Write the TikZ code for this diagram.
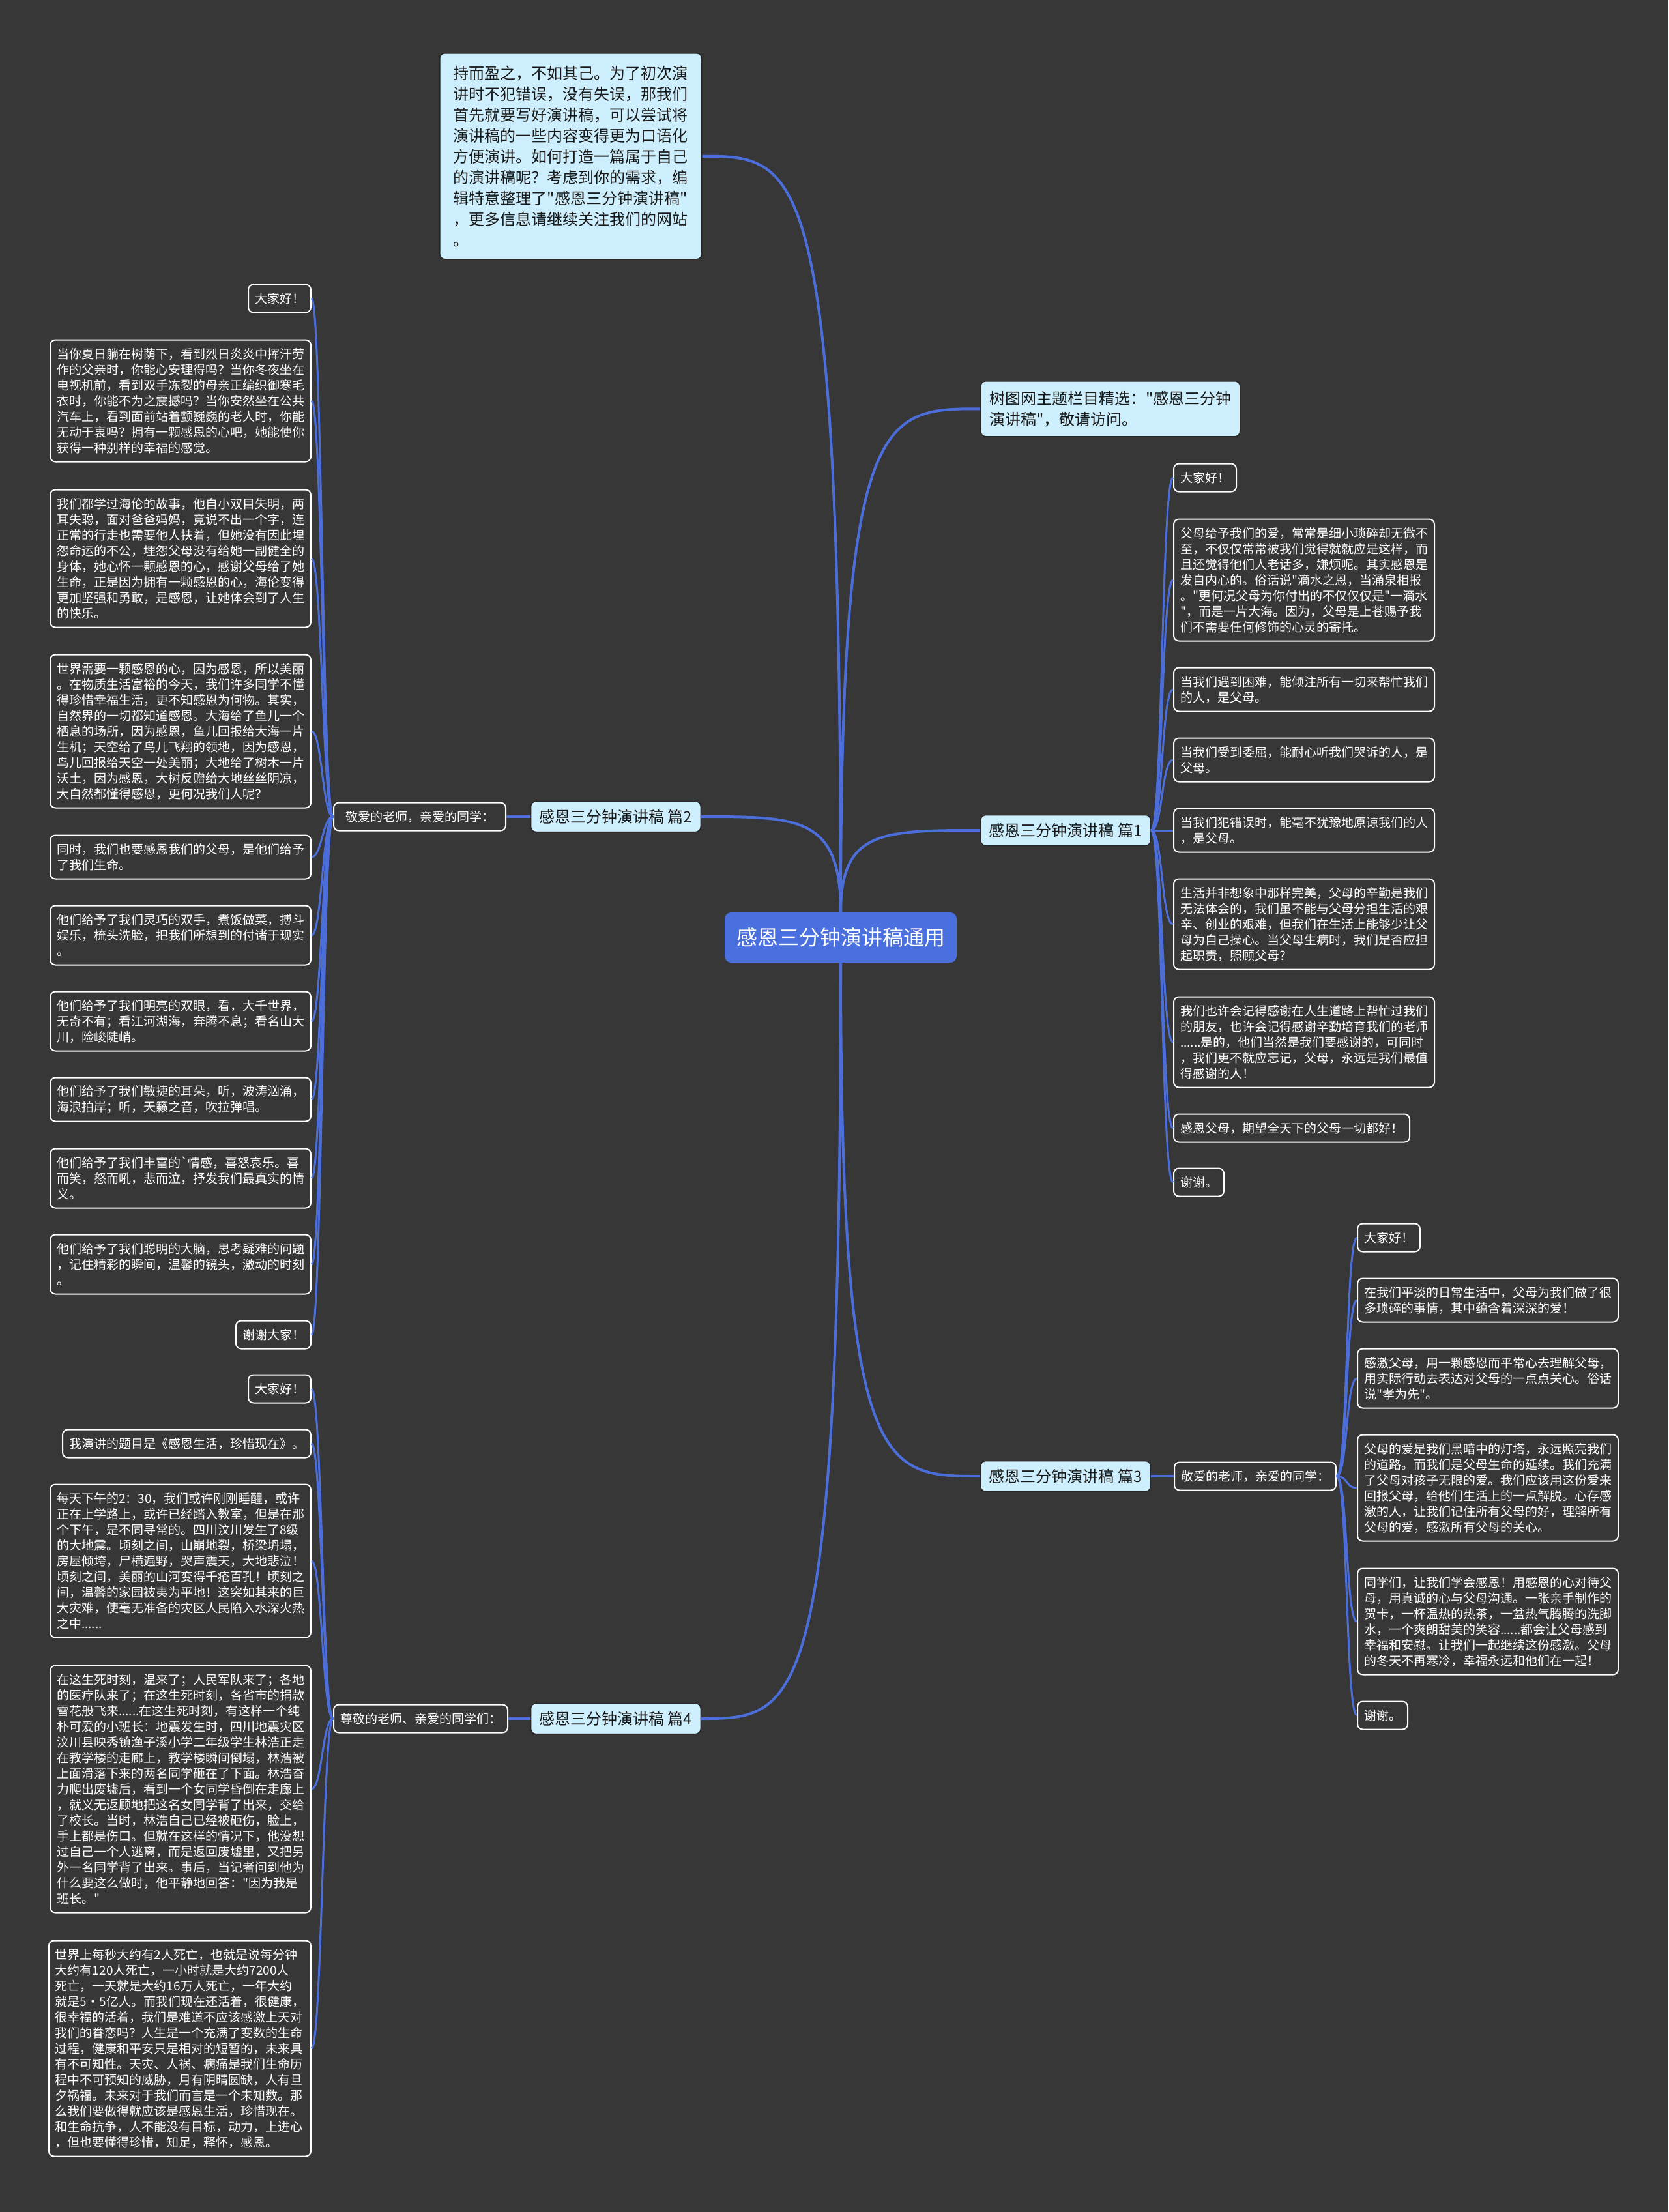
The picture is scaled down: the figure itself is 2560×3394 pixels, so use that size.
\documentclass[tikz,border=0pt]{standalone}
\usepackage{fontspec}
\newfontfamily\cjk{Noto Sans CJK SC}
\definecolor{bg}{HTML}{373737}
\definecolor{lineblue}{HTML}{4B6EDB}
\definecolor{cyanbg}{HTML}{CDEFFD}
\definecolor{ctrblue}{HTML}{4A6FDE}
\begin{document}
\begin{tikzpicture}[x=1pt,y=-1pt,
  leaf/.style={draw=white, line width=2pt, fill=bg, rounded corners=8pt, text=white,
    font=\cjk\fontsize{19pt}{24pt}\selectfont, align=left, inner xsep=10pt, inner ysep=3pt,
    minimum height={24*#1+19}},
  leaf/.default=1,
  lone/.style={draw=black!85, line width=1.5pt, fill=cyanbg, rounded corners=8pt, text=black!90,
    font=\cjk\fontsize{24pt}{32pt}\selectfont, align=left, inner xsep=13pt, inner ysep=3pt},
  pian/.style={lone, minimum width=260pt, minimum height=47pt},
  ctrnode/.style={fill=ctrblue, rounded corners=10pt, text=white,
    font=\cjk\fontsize{32pt}{40pt}\selectfont, minimum width=356pt, minimum height=77pt, inner sep=0pt},
  conn/.style={draw=lineblue, line width=4pt},
  lconn/.style={draw=lineblue, line width=3pt}
]
\useasboundingbox (0,0) rectangle (2560,3394);
\fill[bg] (0,0) rectangle (2560,3394);

% centre and first level
\node[ctrnode] (ctr) at (1290,1438.5) {感恩三分钟演讲稿通用};
\node[lone, anchor=north west, minimum width=402pt, minimum height=316pt] (intro) at (674,81)
 {持而盈之，不如其己。为了初次演\\讲时不犯错误，没有失误，那我们\\首先就要写好演讲稿，可以尝试将\\演讲稿的一些内容变得更为口语化\\方便演讲。如何打造一篇属于自己\\的演讲稿呢？考虑到你的需求，编\\辑特意整理了"感恩三分钟演讲稿"\\，更多信息请继续关注我们的网站\\。};
\node[lone, anchor=north west, minimum width=398pt, minimum height=85pt] (tree) at (1504,584)
 {树图网主题栏目精选："感恩三分钟\\演讲稿"，敬请访问。};
\node[pian, anchor=west] (p1) at (1504,1274) {感恩三分钟演讲稿 篇1};
\node[pian, anchor=east] (p2) at (1076,1253) {感恩三分钟演讲稿 篇2};
\node[pian, anchor=west] (p3) at (1504,2265) {感恩三分钟演讲稿 篇3};
\node[pian, anchor=east] (p4) at (1076,2637) {感恩三分钟演讲稿 篇4};

% second level
\node[leaf, anchor=west, minimum width=264pt] (l2b) at (511,1253) {敬爱的老师，亲爱的同学：};
\node[leaf, anchor=west] (l2c) at (1801,2265) {敬爱的老师，亲爱的同学：};
\node[leaf, anchor=west] (l2d) at (511,2637) {尊敬的老师、亲爱的同学们：};

% 篇1 leaves
\node[leaf, anchor=west] (a1) at (1800,733) {大家好！};
\node[leaf=7, anchor=west] (a2) at (1800,890) {父母给予我们的爱，常常是细小琐碎却无微不\\至，不仅仅常常被我们觉得就就应是这样，而\\且还觉得他们人老话多，嫌烦呢。其实感恩是\\发自内心的。俗话说"滴水之恩，当涌泉相报\\。"更何况父母为你付出的不仅仅仅是"一滴水\\"，而是一片大海。因为，父母是上苍赐予我\\们不需要任何修饰的心灵的寄托。};
\node[leaf=2, anchor=west] (a3) at (1800,1058) {当我们遇到困难，能倾注所有一切来帮忙我们\\的人，是父母。};
\node[leaf=2, anchor=west] (a4) at (1800,1166) {当我们受到委屈，能耐心听我们哭诉的人，是\\父母。};
\node[leaf=2, anchor=west] (a5) at (1800,1274) {当我们犯错误时，能毫不犹豫地原谅我们的人\\，是父母。};
\node[leaf=5, anchor=west] (a6) at (1800,1418) {生活并非想象中那样完美，父母的辛勤是我们\\无法体会的，我们虽不能与父母分担生活的艰\\辛、创业的艰难，但我们在生活上能够少让父\\母为自己操心。当父母生病时，我们是否应担\\起职责，照顾父母？};
\node[leaf=5, anchor=west] (a7) at (1800,1599) {我们也许会记得感谢在人生道路上帮忙过我们\\的朋友，也许会记得感谢辛勤培育我们的老师\\......是的，他们当然是我们要感谢的，可同时\\，我们更不就应忘记，父母，永远是我们最值\\得感谢的人！};
\node[leaf, anchor=west] (a8) at (1800,1731) {感恩父母，期望全天下的父母一切都好！};
\node[leaf, anchor=west] (a9) at (1800,1814) {谢谢。};

% 篇2 leaves
\node[leaf, anchor=east] (b1) at (478,458) {大家好！};
\node[leaf=7, anchor=east] (b2) at (478,615) {当你夏日躺在树荫下，看到烈日炎炎中挥汗劳\\作的父亲时，你能心安理得吗？当你冬夜坐在\\电视机前，看到双手冻裂的母亲正编织御寒毛\\衣时，你能不为之震撼吗？当你安然坐在公共\\汽车上，看到面前站着颤巍巍的老人时，你能\\无动于衷吗？拥有一颗感恩的心吧，她能使你\\获得一种别样的幸福的感觉。};
\node[leaf=8, anchor=east] (b3) at (478,857) {我们都学过海伦的故事，他自小双目失明，两\\耳失聪，面对爸爸妈妈，竟说不出一个字，连\\正常的行走也需要他人扶着，但她没有因此埋\\怨命运的不公，埋怨父母没有给她一副健全的\\身体，她心怀一颗感恩的心，感谢父母给了她\\生命，正是因为拥有一颗感恩的心，海伦变得\\更加坚强和勇敢，是感恩，让她体会到了人生\\的快乐。};
\node[leaf=9, anchor=east] (b4) at (478,1122) {世界需要一颗感恩的心，因为感恩，所以美丽\\。在物质生活富裕的今天，我们许多同学不懂\\得珍惜幸福生活，更不知感恩为何物。其实，\\自然界的一切都知道感恩。大海给了鱼儿一个\\栖息的场所，因为感恩，鱼儿回报给大海一片\\生机；天空给了鸟儿飞翔的领地，因为感恩，\\鸟儿回报给天空一处美丽；大地给了树木一片\\沃土，因为感恩，大树反赠给大地丝丝阴凉，\\大自然都懂得感恩，更何况我们人呢？};
\node[leaf=2, anchor=east] (b5) at (478,1315) {同时，我们也要感恩我们的父母，是他们给予\\了我们生命。};
\node[leaf=3, anchor=east] (b6) at (478,1435) {他们给予了我们灵巧的双手，煮饭做菜，搏斗\\娱乐，梳头洗脸，把我们所想到的付诸于现实\\。};
\node[leaf=3, anchor=east] (b7) at (478,1567) {他们给予了我们明亮的双眼，看，大千世界，\\无奇不有；看江河湖海，奔腾不息；看名山大\\川，险峻陡峭。};
\node[leaf=2, anchor=east] (b8) at (478,1687) {他们给予了我们敏捷的耳朵，听，波涛汹涌，\\海浪拍岸；听，天籁之音，吹拉弹唱。};
\node[leaf=3, anchor=east] (b9) at (478,1808) {他们给予了我们丰富的`情感，喜怒哀乐。喜\\而笑，怒而吼，悲而泣，抒发我们最真实的情\\义。};
\node[leaf=3, anchor=east] (b10) at (478,1940) {他们给予了我们聪明的大脑，思考疑难的问题\\，记住精彩的瞬间，温馨的镜头，激动的时刻\\。};
\node[leaf, anchor=east] (b11) at (478,2048) {谢谢大家！};

% 篇3 leaves
\node[leaf, anchor=west] (c1) at (2082,1899) {大家好！};
\node[leaf=2, anchor=west] (c2) at (2082,1995) {在我们平淡的日常生活中，父母为我们做了很\\多琐碎的事情，其中蕴含着深深的爱！};
\node[leaf=3, anchor=west] (c3) at (2082,2115) {感激父母，用一颗感恩而平常心去理解父母，\\用实际行动去表达对父母的一点点关心。俗话\\说"孝为先"。};
\node[leaf=6, anchor=west] (c4) at (2082,2283) {父母的爱是我们黑暗中的灯塔，永远照亮我们\\的道路。而我们是父母生命的延续。我们充满\\了父母对孩子无限的爱。我们应该用这份爱来\\回报父母，给他们生活上的一点解脱。心存感\\激的人，让我们记住所有父母的好，理解所有\\父母的爱，感激所有父母的关心。};
\node[leaf=6, anchor=west] (c5) at (2082,2488) {同学们，让我们学会感恩！用感恩的心对待父\\母，用真诚的心与父母沟通。一张亲手制作的\\贺卡，一杯温热的热茶，一盆热气腾腾的洗脚\\水，一个爽朗甜美的笑容......都会让父母感到\\幸福和安慰。让我们一起继续这份感激。父母\\的冬天不再寒冷，幸福永远和他们在一起！};
\node[leaf, anchor=west] (c6) at (2082,2632) {谢谢。};

% 篇4 leaves
\node[leaf, anchor=east] (d1) at (478,2131) {大家好！};
\node[leaf, anchor=east] (d2) at (478,2215) {我演讲的题目是《感恩生活，珍惜现在》。};
\node[leaf=9, anchor=east] (d3) at (478,2395) {每天下午的2：30，我们或许刚刚睡醒，或许\\正在上学路上，或许已经踏入教室，但是在那\\个下午，是不同寻常的。四川汶川发生了8级\\的大地震。顷刻之间，山崩地裂，桥梁坍塌，\\房屋倾垮，尸横遍野，哭声震天，大地悲泣！\\顷刻之间，美丽的山河变得千疮百孔！顷刻之\\间，温馨的家园被夷为平地！这突如其来的巨\\大灾难，使毫无准备的灾区人民陷入水深火热\\之中......};
\node[leaf=15, anchor=east] (d4) at (478,2745) {在这生死时刻，温来了；人民军队来了；各地\\的医疗队来了；在这生死时刻，各省市的捐款\\雪花般飞来......在这生死时刻，有这样一个纯\\朴可爱的小班长：地震发生时，四川地震灾区\\汶川县映秀镇渔子溪小学二年级学生林浩正走\\在教学楼的走廊上，教学楼瞬间倒塌，林浩被\\上面滑落下来的两名同学砸在了下面。林浩奋\\力爬出废墟后，看到一个女同学昏倒在走廊上\\，就义无返顾地把这名女同学背了出来，交给\\了校长。当时，林浩自己已经被砸伤，脸上，\\手上都是伤口。但就在这样的情况下，他没想\\过自己一个人逃离，而是返回废墟里，又把另\\外一名同学背了出来。事后，当记者问到他为\\什么要这么做时，他平静地回答："因为我是\\班长。"};
\node[leaf=13, anchor=east] (d5) at (478,3143) {世界上每秒大约有2人死亡，也就是说每分钟\\大约有120人死亡，一小时就是大约7200人\\死亡，一天就是大约16万人死亡，一年大约\\就是5·5亿人。而我们现在还活着，很健康，\\很幸福的活着，我们是难道不应该感激上天对\\我们的眷恋吗？人生是一个充满了变数的生命\\过程，健康和平安只是相对的短暂的，未来具\\有不可知性。天灾、人祸、病痛是我们生命历\\程中不可预知的威胁，月有阴晴圆缺，人有旦\\夕祸福。未来对于我们而言是一个未知数。那\\么我们要做得就应该是感恩生活，珍惜现在。\\和生命抗争，人不能没有目标，动力，上进心\\，但也要懂得珍惜，知足，释怀，感恩。};

% connectors from the centre
\draw[conn] (ctr.north) .. controls +(0,-1161) and +(150,0) .. (intro.east);
\draw[conn] (ctr.north) .. controls +(0,-773) and +(-150,0) .. (tree.west);
\draw[conn] (ctr.north) .. controls +(0,-126) and +(-150,0) .. (p1.west);
\draw[conn] (ctr.north) .. controls +(0,-147) and +(150,0) .. (p2.east);
\draw[conn] (ctr.south) .. controls +(0,788) and +(-150,0) .. (p3.west);
\draw[conn] (ctr.south) .. controls +(0,1160) and +(150,0) .. (p4.east);

% first level to second level
\draw[conn] (p2.west) -- (l2b.east);
\draw[conn] (p3.east) -- (l2c.west);
\draw[conn] (p4.west) -- (l2d.east);

% leaves
\foreach \i in {1,...,9}
  \draw[lconn] (p1.east) .. controls +(18,0) and +(-18,0) .. (a\i.west);
\foreach \i in {1,...,11}
  \draw[lconn] (l2b.west) .. controls +(-16,0) and +(16,0) .. (b\i.east);
\foreach \i in {1,...,6}
  \draw[lconn] (l2c.east) .. controls +(17,0) and +(-17,0) .. (c\i.west);
\foreach \i in {1,...,5}
  \draw[lconn] (l2d.west) .. controls +(-16,0) and +(16,0) .. (d\i.east);
\end{tikzpicture}
\end{document}
